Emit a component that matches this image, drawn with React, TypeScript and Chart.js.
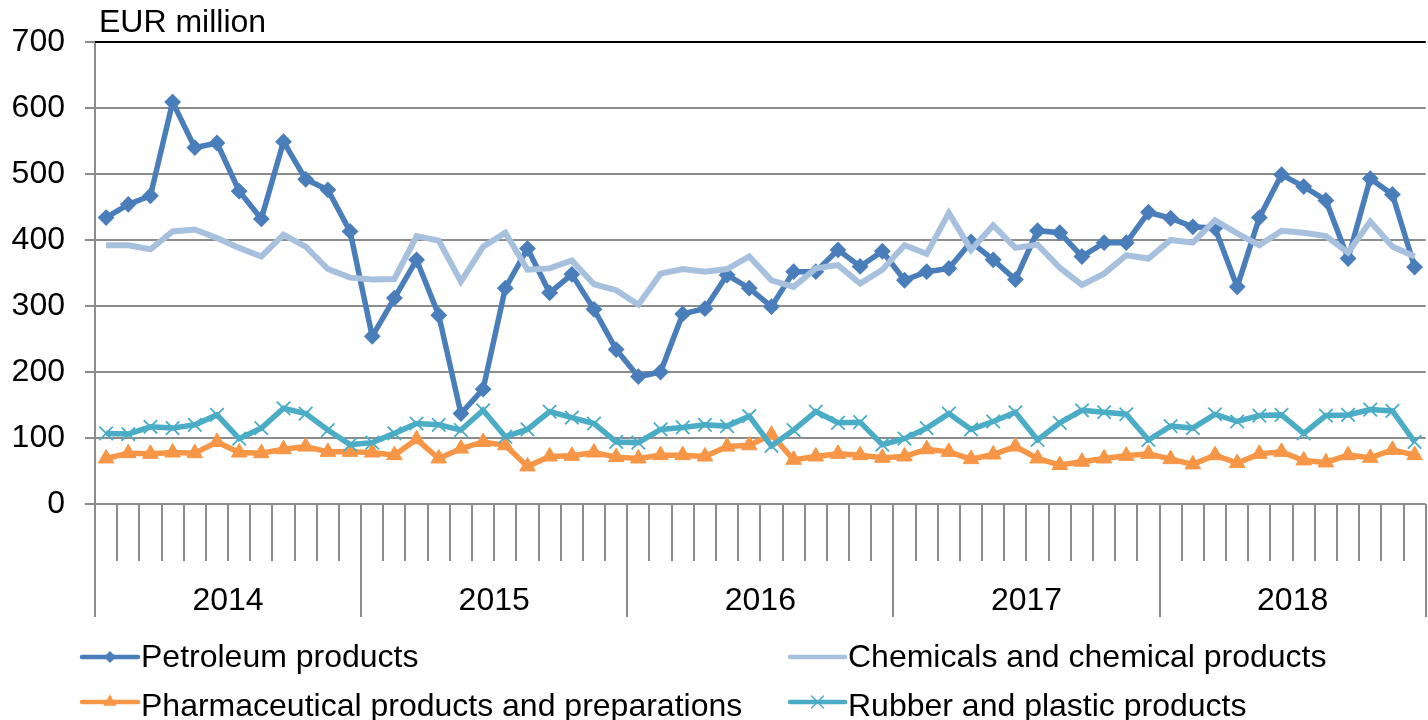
import React, { useEffect, useRef } from "react";
import { Chart, registerables } from "chart.js";

Chart.register(...registerables);

const years = ["2014", "2015", "2016", "2017", "2018"];
const months = ["01", "02", "03", "04", "05", "06", "07", "08", "09", "10", "11", "12"];

const petroleum = [
  434, 454, 467, 609, 540, 547, 474, 432, 549, 492, 476, 413,
  254, 312, 370, 286, 137, 174, 327, 387, 320, 348, 295, 234,
  193, 200, 288, 296, 347, 327, 299, 352, 352, 385, 360, 383,
  339, 352, 357, 397, 370, 340, 414, 411, 375, 396, 396, 442,
  433, 420, 418, 329, 434, 499, 481, 460, 372, 493, 469, 359,
];
const chemicals = [
  392, 392, 386, 413, 416, 403, 388, 375, 408, 390, 356, 343,
  340, 341, 406, 399, 337, 390, 411, 355, 357, 369, 333, 324,
  302, 349, 356, 352, 356, 375, 339, 329, 357, 362, 334, 355,
  392, 379, 441, 385, 422, 388, 393, 358, 332, 349, 377, 372,
  400, 396, 430, 410, 392, 414, 411, 406, 381, 428, 390, 375,
];
const pharma = [
  69, 77, 76, 78, 77, 94, 78, 77, 83, 87, 79, 79,
  78, 74, 98, 69, 84, 94, 89, 57, 72, 73, 78, 71,
  69, 74, 74, 72, 87, 89, 105, 67, 72, 76, 74, 70,
  72, 83, 79, 68, 75, 87, 69, 59, 64, 69, 73, 76,
  68, 60, 74, 62, 76, 79, 66, 63, 74, 70, 82, 74,
];
const rubber = [
  107, 106, 117, 115, 120, 135, 99, 115, 145, 137, 112, 90,
  93, 107, 122, 120, 112, 142, 102, 113, 140, 131, 122, 94,
  93, 113, 116, 120, 118, 133, 88, 112, 140, 123, 124, 90,
  99, 115, 137, 113, 125, 139, 97, 123, 142, 139, 136, 97,
  118, 115, 136, 125, 134, 135, 107, 134, 135, 143, 141, 94,
];

const seriesNames = [
  "Petroleum products",
  "Chemicals and chemical products",
  "Pharmaceutical products and preparations",
  "Rubber and plastic products",
];
const unitLabel = "EUR million";

const labels: string[] = [];
years.forEach((y) => months.forEach((m) => labels.push(`${y}-${m}`)));

const FONT = "'Liberation Sans', Arial, sans-serif";
const GRID = "#8c8c8c";
const C_PET = "#4a7ebb";
const C_CHEM = "#a7c0de";
const C_PHARMA = "#f79646";
const C_RUBBER = "#4bacc6";

function drawMarker(ctx: CanvasRenderingContext2D, style: string, x: number, y: number, color: string) {
  ctx.save();
  ctx.fillStyle = color;
  ctx.strokeStyle = color;
  if (style === "rectRot") {
    const r = 6;
    ctx.beginPath();
    ctx.moveTo(x, y - r);
    ctx.lineTo(x + r, y);
    ctx.lineTo(x, y + r);
    ctx.lineTo(x - r, y);
    ctx.closePath();
    ctx.fill();
  } else if (style === "triangle") {
    const r = 7.5;
    ctx.beginPath();
    ctx.moveTo(x, y - r);
    ctx.lineTo(x + r * 0.866, y + r * 0.5);
    ctx.lineTo(x - r * 0.866, y + r * 0.5);
    ctx.closePath();
    ctx.fill();
  } else if (style === "crossRot") {
    const r = 6;
    ctx.lineWidth = 1.5;
    ctx.beginPath();
    ctx.moveTo(x - r, y - r);
    ctx.lineTo(x + r, y + r);
    ctx.moveTo(x + r, y - r);
    ctx.lineTo(x - r, y + r);
    ctx.stroke();
  }
  ctx.restore();
}

const decorPlugin = {
  id: "decor",
  afterDraw(chart: any) {
    const ctx: CanvasRenderingContext2D = chart.ctx;
    const area = chart.chartArea;
    const xs = chart.scales.x;
    const step = xs.getPixelForValue(1) - xs.getPixelForValue(0);
    ctx.save();
    ctx.direction = "ltr";
    // top border of plot
    ctx.strokeStyle = "#000";
    ctx.lineWidth = 2;
    ctx.beginPath();
    ctx.moveTo(area.left, Math.round(area.top));
    ctx.lineTo(area.right, Math.round(area.top));
    ctx.stroke();
    // year separators and labels
    ctx.strokeStyle = GRID;
    ctx.lineWidth = 2;
    for (let k = 0; k <= years.length; k++) {
      const px = Math.round(xs.getPixelForValue(k * 12) - step / 2);
      ctx.beginPath();
      ctx.moveTo(px, area.bottom);
      ctx.lineTo(px, 617);
      ctx.stroke();
    }
    ctx.fillStyle = "#000";
    ctx.font = `32px ${FONT}`;
    ctx.textAlign = "center";
    ctx.textBaseline = "alphabetic";
    years.forEach((y, k) => {
      const cx = (xs.getPixelForValue(k * 12) + xs.getPixelForValue(k * 12 + 11)) / 2;
      ctx.fillText(y, cx, 610);
    });
    // unit label
    ctx.textAlign = "left";
    ctx.fillText(unitLabel, 99, 32);
    // legend
    const ds = chart.data.datasets;
    const legendPos = [
      { lx1: 82, lx2: 138, tx: 141, ly: 657, ty: 666.5 },
      { lx1: 790, lx2: 845, tx: 848, ly: 657, ty: 666.5 },
      { lx1: 82, lx2: 138, tx: 141, ly: 702, ty: 716 },
      { lx1: 790, lx2: 845, tx: 848, ly: 702, ty: 716 },
    ];
    ds.forEach((d: any, i: number) => {
      const p = legendPos[i];
      ctx.strokeStyle = d.borderColor;
      ctx.lineWidth = 4.5;
      ctx.lineCap = "round";
      ctx.beginPath();
      ctx.moveTo(p.lx1, p.ly);
      ctx.lineTo(p.lx2, p.ly);
      ctx.stroke();
      if (d.pointRadius > 0) drawMarker(ctx, d.pointStyle, (p.lx1 + p.lx2) / 2, p.ly, d.borderColor);
      ctx.fillStyle = "#000";
      ctx.textAlign = "left";
      ctx.fillText(d.label, p.tx, p.ty);
    });
    ctx.restore();
  },
};

export default function App() {
  const ref = useRef<HTMLCanvasElement | null>(null);
  useEffect(() => {
    if (!ref.current) return;
    const chart = new Chart(ref.current, {
      type: "line",
      data: {
        labels,
        datasets: [
          {
            label: seriesNames[0],
            data: petroleum,
            borderColor: C_PET,
            backgroundColor: C_PET,
            borderWidth: 5.5,
            pointStyle: "rectRot",
            pointRadius: 7,
            pointBorderWidth: 2,
            pointBackgroundColor: C_PET,
            pointBorderColor: C_PET,
            tension: 0,
            order: 4,
          },
          {
            label: seriesNames[1],
            data: chemicals,
            borderColor: C_CHEM,
            backgroundColor: C_CHEM,
            borderWidth: 6,
            pointRadius: 0,
            tension: 0,
            order: 3,
          },
          {
            label: seriesNames[2],
            data: pharma,
            borderColor: C_PHARMA,
            backgroundColor: C_PHARMA,
            borderWidth: 5.5,
            pointStyle: "triangle",
            pointRadius: 9,
            pointBorderWidth: 1,
            pointBackgroundColor: C_PHARMA,
            pointBorderColor: C_PHARMA,
            tension: 0,
            order: 2,
          },
          {
            label: seriesNames[3],
            data: rubber,
            borderColor: C_RUBBER,
            backgroundColor: C_RUBBER,
            borderWidth: 5.5,
            pointStyle: "crossRot",
            pointRadius: 9.5,
            pointBorderWidth: 1.8,
            pointBackgroundColor: C_RUBBER,
            pointBorderColor: C_RUBBER,
            tension: 0,
            order: 1,
          },
        ],
      },
      options: {
        responsive: false,
        animation: false,
        devicePixelRatio: 1,
        layout: { padding: { left: 0, right: 0, top: 42, bottom: 159 } },
        plugins: {
          legend: { display: false },
          tooltip: { enabled: false },
          title: { display: false },
        },
        scales: {
          x: {
            type: "category",
            offset: true,
            grid: {
              offset: true,
              drawOnChartArea: false,
              drawTicks: true,
              tickLength: 57,
              color: GRID,
              lineWidth: 2,
            },
            border: { display: false },
            ticks: { display: false },
            afterFit: (s: any) => {
              s.height = 57;
            },
          },
          y: {
            min: 0,
            max: 700,
            ticks: {
              stepSize: 100,
              color: "#000",
              padding: 20,
              font: { family: FONT, size: 32 },
            },
            grid: { color: GRID, lineWidth: 2, tickLength: 10, drawTicks: true },
            border: { display: true, color: GRID, width: 2 },
            afterFit: (s: any) => {
              s.width = 95;
            },
          },
        },
      },
      plugins: [decorPlugin],
    });
    return () => chart.destroy();
  }, []);
  return (
    <div
      style={{
        position: "fixed",
        left: 0,
        top: 0,
        width: 1428,
        height: 720,
        overflow: "hidden",
        background: "#fff",
      }}
    >
      <canvas ref={ref} width={1437} height={720} style={{ display: "block" }} />
    </div>
  );
}
